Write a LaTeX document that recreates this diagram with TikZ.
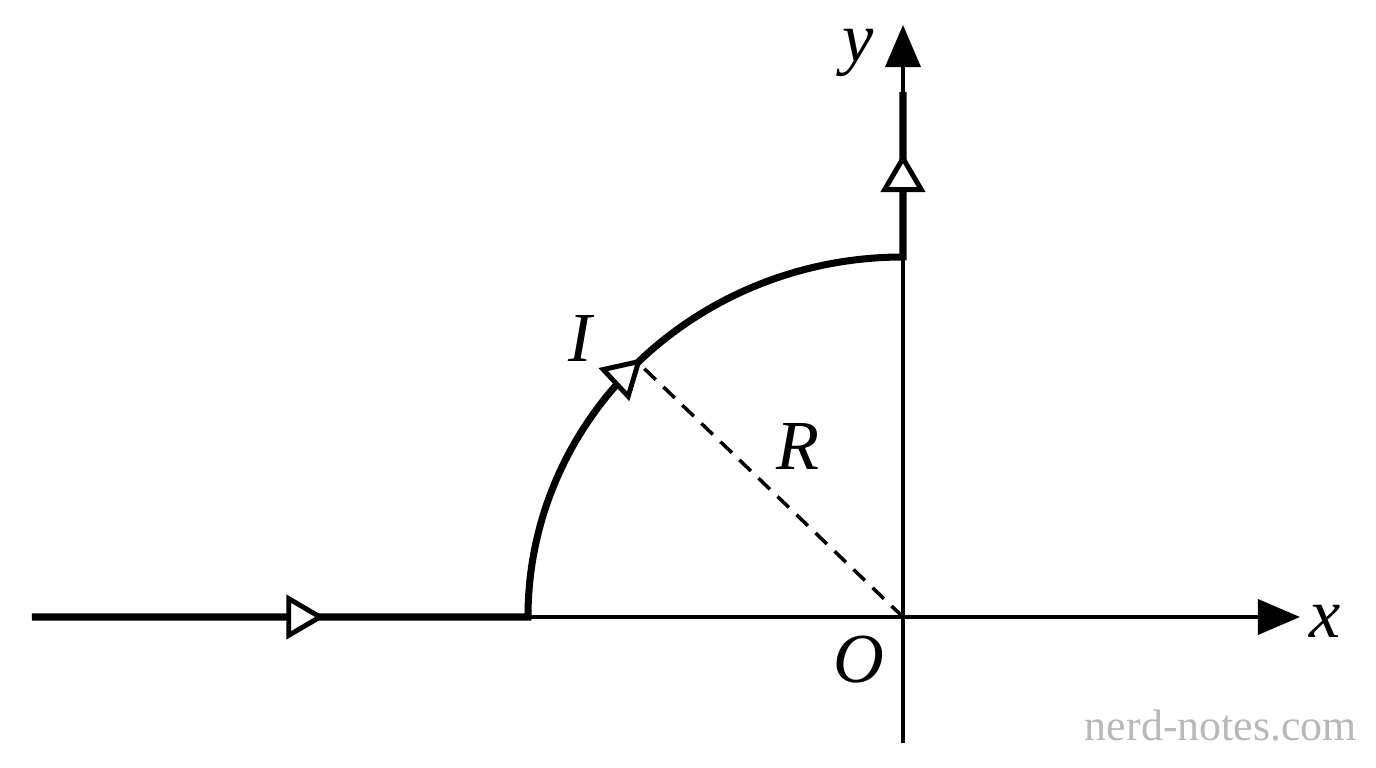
\documentclass[tikz,border=0pt]{standalone}
\usepackage{fontspec}
\setmainfont{Liberation Serif}
\usetikzlibrary{arrows.meta,decorations.markings}
\tikzstyle{axis} = [line width=1pt, -{Triangle[length=12pt,width=10pt]}]
\tikzstyle{wire} = [line width=2pt, line join=miter]
\tikzstyle{lbl} = [font=\fontsize{20}{24}\selectfont\itshape, anchor=base, inner sep=0pt]
\tikzset{flow/.tip={Triangle[fill=white,length=11pt,width=12.5pt,line width=1.4pt]}}

\begin{document}
\begin{tikzpicture}
  \useasboundingbox (-9.03,-1.51) rectangle (4.73,6.17);
  \coordinate (O)     at (0,0);
  \coordinate (start) at (-8.71,0);
  \coordinate (foot)  at (-3.75,0);
  \coordinate (rim)   at (-2.652,2.546);
  \coordinate (end)   at (0,5.25);
  \coordinate (xend)  at (3.97,0);
  \coordinate (ybot)  at (0,-1.26);
  \coordinate (yend)  at (0,5.92);

  % axes
  \draw[axis] (foot) -- (xend);
  \draw[axis] (ybot) -- (yend);

  % current path
  \draw[wire, postaction={decorate}, decoration={markings,
      mark=at position 2.93cm with {\arrow{flow}},
      mark=at position 7.87cm with {\arrow{flow}},
      mark=at position 11.77cm with {\arrow{flow}}}]
    (start) -- (foot) arc[start angle=180, end angle=90, x radius=3.75, y radius=3.6] -- (end);

  % radius
  \draw[line width=1pt, dash pattern=on 4.5pt off 3pt] (O) -- (rim);

  \node[lbl] (ylbl) at (-0.45,5.55)  {y};
  \node[lbl] (xlbl) at (4.22,-0.21)  {x};
  \node[lbl] (olbl) at (-0.44,-0.66) {O};
  \node[lbl] (ilbl) at (-3.23,2.55)  {I};
  \node[lbl] (rlbl) at (-1.05,1.47)  {R};
  \node[font=\fontsize{12.5}{14}\selectfont, text=black!28, anchor=base, inner sep=0pt] (mark) at (3.18,-1.24) {nerd-notes.com};
\end{tikzpicture}
\end{document}
